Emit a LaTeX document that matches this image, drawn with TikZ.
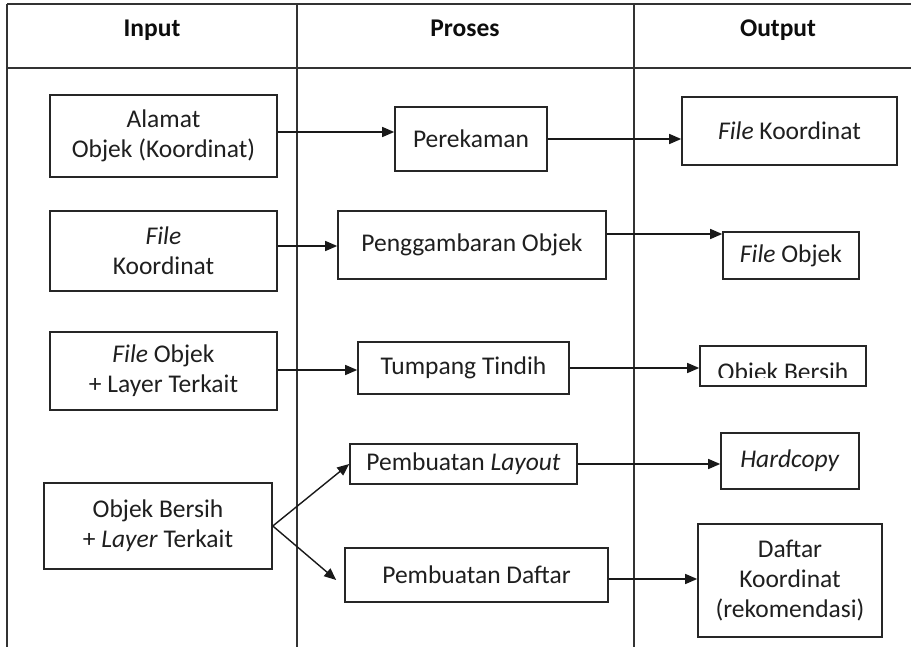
\documentclass[tikz,border=0pt]{standalone}
\usepackage{fontspec}
\setmainfont{Carlito}
\usetikzlibrary{arrows.meta}
\begin{document}
\begin{tikzpicture}[x=1pt,y=-1pt,
  txt/.style={font=\fontsize{25.5}{30}\selectfont, text=black!88, align=center},
  hdr/.style={font=\fontsize{25.5}{30}\selectfont\bfseries, text=black!95, anchor=base},
  bx/.style={txt, draw=black!85, line width=1.6pt, inner sep=0pt, fill=white},
  tline/.style={draw=black!80, line width=1.3pt},
  arr/.style={draw=black!90, line width=1.4pt, -{Triangle[length=12pt,width=10pt]}}]
\useasboundingbox (0,0) rectangle (911,647);
\fill[white] (0,0) rectangle (911,647);
% table
\coordinate (tl) at (7,4);
\coordinate (tr) at (911,4);
\coordinate (hl) at (7,68);
\coordinate (hr) at (911,68);
\coordinate (bl) at (7,647);
\coordinate (c1t) at (297,4);
\coordinate (c1b) at (297,647);
\coordinate (c2t) at (634,4);
\coordinate (c2b) at (634,647);
\draw[tline] (tl) -- (tr);
\draw[tline] (hl) -- (hr);
\draw[tline] (tl) -- (bl);
\draw[tline] (c1t) -- (c1b);
\draw[tline] (c2t) -- (c2b);
\node[hdr] (h1) at (152,37) {Input};
\node[hdr] (h2) at (465,37) {Proses};
\node[hdr] (h3) at (778,37) {Output};
% input boxes
\node[bx, minimum width=227pt, minimum height=82pt] (in1) at (163.5,136) {Alamat\\Objek (Koordinat)};
\node[bx, minimum width=227pt, minimum height=80pt] (in2) at (163.5,251) {\textit{File}\\Koordinat};
\node[bx, minimum width=227pt, minimum height=78pt] (in3) at (163.5,371) {\textit{File} Objek\\+ Layer Terkait};
\node[bx, minimum width=228pt, minimum height=86pt] (in4) at (158,526) {Objek Bersih\\+ \textit{Layer} Terkait};
% process boxes
\node[bx, minimum width=152pt, minimum height=64pt] (p1) at (471,139) {Perekaman};
\node[bx, minimum width=268pt, minimum height=68pt] (p2) at (472,245) {Penggambaran Objek};
\node[bx, minimum width=211pt, minimum height=52pt] (p3) at (463.5,368) {Tumpang Tindih};
\node[bx, minimum width=227pt, minimum height=40pt] (p4) at (463.5,464) {Pembuatan \textit{Layout}};
\node[bx, minimum width=263pt, minimum height=54pt] (p5) at (476.5,575) {Pembuatan Daftar};
% output boxes
\node[bx, minimum width=215pt, minimum height=68pt] (o1) at (789.5,131) {\textit{File} Koordinat};
\node[bx, minimum width=136pt, minimum height=47pt] (o2) at (791,255.5) {\textit{File} Objek};
\node[bx, minimum width=166pt, minimum height=40pt] (o3) at (783,366) {};
\begin{scope}
\clip (701,347) rectangle (865,377);
\node[txt, anchor=base] (o3t) at (783,381) {Objek Bersih};
\end{scope}
\node[bx, minimum width=138pt, minimum height=56pt] (o4) at (790,461) {\textit{Hardcopy}};
\node[bx, minimum width=184pt, minimum height=113pt] (o5) at (790,580.5) {Daftar\\Koordinat\\(rekomendasi)};
% arrows
\draw[arr] ([yshift=4pt]in1.east) -- ([yshift=4pt]in1.east -| p1.west);
\draw[arr] (p1.east) -- (p1.east -| o1.west);
\draw[arr] ([yshift=5pt]in2.east) -- ([yshift=5pt]in2.east -| p2.west);
\draw[arr] ([yshift=11pt]p2.east) -- ([yshift=11pt]p2.east -| o2.west);
\draw[arr] ([yshift=1pt]in3.east) -- ([yshift=1pt]in3.east -| p3.west);
\draw[arr] (p3.east) -- (p3.east -| o3.west);
\draw[arr] (in4.east) -- (p4.west);
\draw[arr] (in4.east) -- ([xshift=-8pt,yshift=-5pt]p5.west);
\draw[arr] (p4.east) -- (p4.east -| o4.west);
\draw[arr] ([yshift=-4pt]p5.east) -- ([yshift=-4pt]p5.east -| o5.west);
\end{tikzpicture}
\end{document}
